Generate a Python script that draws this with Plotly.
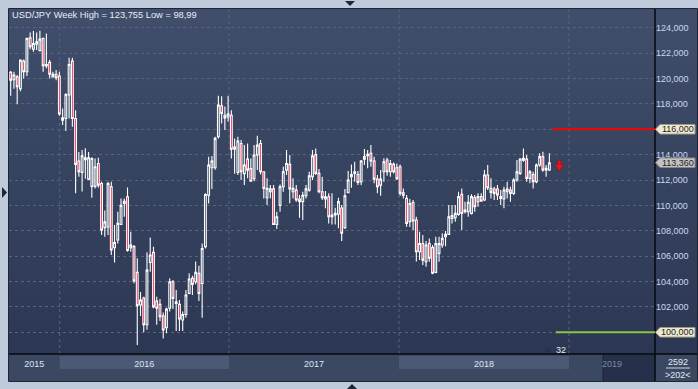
import plotly.graph_objects as go

# ---------------- data ----------------
opens = [120.48, 119.90, 120.13, 119.20, 121.37, 120.53, 123.20, 122.30, 122.70, 122.20,
         123.16, 120.99, 121.27, 120.13, 120.33, 120.20, 116.72, 116.85, 118.70, 121.37,
         116.85, 113.50, 112.60, 113.60, 112.07, 111.50, 111.50, 113.30, 111.73, 108.25,
         108.30, 111.47, 106.66, 107.27, 108.50, 110.15, 110.68, 106.66, 106.75, 104.72,
         102.15, 102.70, 100.60,
         105.50, 106.30, 102.46, 102.20, 101.30, 100.36, 101.90, 103.98, 102.28, 102.20,
         100.97, 101.40, 103.06, 104.25, 103.98, 104.64, 103.85, 106.75, 110.80, 112.97,
         112.97, 115.41, 117.85, 117.10, 116.97, 117.10, 114.43, 112.60, 114.88, 112.50,
         113.65, 112.90, 112.10, 113.97, 114.88, 112.65, 110.60, 111.08, 111.30, 108.50,
         110.00, 111.47,
         112.78, 113.23, 111.08, 111.20, 110.50, 110.30, 110.76, 111.20, 112.26, 114.00,
         112.52, 111.08, 110.50, 110.68, 109.10, 109.24, 109.30, 109.80, 108.24, 111.00,
         112.26, 112.52, 112.44, 111.86, 113.84, 113.92, 114.10, 113.50, 112.07, 111.60,
         112.65, 113.58, 112.65, 113.23, 112.97, 113.05, 111.00, 110.55, 108.72, 110.23,
         108.85, 106.35,
         107.00, 105.56, 107.00, 106.67, 104.72, 106.22, 106.88, 107.53, 107.72, 108.98,
         109.03, 109.29, 110.87, 109.50, 109.50, 109.37, 110.61, 110.29, 110.69, 110.42,
         112.39, 111.34, 111.29, 111.29, 110.69, 110.50, 111.08, 111.21, 110.95, 112.00,
         112.52, 113.57, 113.65, 112.13, 112.44, 111.87, 113.18, 113.84, 112.79, 112.79]
highs = [120.60, 120.53, 120.27, 121.50, 121.50, 123.20, 123.63, 123.74, 123.63, 123.755,
         123.20, 123.55, 121.45, 120.53, 120.67, 120.53, 117.64, 118.83, 121.63, 121.63,
         117.50, 114.20, 114.36, 114.50, 114.20, 113.80, 113.70, 113.75, 111.87, 109.60,
         111.87, 111.87, 108.45, 109.50, 110.55, 110.55, 111.42, 107.92, 106.88, 105.83,
         103.18, 102.81, 106.30,
         107.48, 106.75, 102.81, 102.62, 101.57, 101.94, 104.25, 104.12, 103.33, 102.54,
         101.63, 103.33, 104.65, 104.46, 105.57, 105.25, 107.00, 110.95, 113.84, 113.90,
         115.41, 118.64, 118.60, 117.80, 118.64, 117.50, 115.28, 115.41, 115.15, 114.75,
         114.88, 113.70, 114.75, 115.49, 115.15, 112.70, 112.13, 111.60, 111.60, 109.50,
         111.65, 113.05,
         114.36, 113.97, 112.13, 111.60, 110.82, 111.08, 111.60, 112.65, 114.36, 114.49,
         112.86, 112.26, 111.13, 110.95, 110.95, 109.82, 110.61, 110.03, 111.30, 112.71,
         113.23, 113.44, 112.71, 113.57, 114.44, 114.36, 114.75, 113.84, 112.39, 112.79,
         113.71, 113.76, 113.57, 113.39, 113.31, 113.23, 111.34, 110.82, 110.50, 110.42,
         109.10, 107.92,
         107.66, 107.19, 107.40, 106.88, 107.53, 107.53, 107.80, 107.98, 110.03, 110.03,
         110.03, 111.08, 111.34, 110.29, 110.82, 110.87, 110.82, 110.95, 110.95, 112.79,
         113.18, 112.13, 111.47, 111.60, 111.21, 111.47, 111.87, 111.47, 112.13, 113.57,
         113.71, 114.49, 113.97, 112.79, 112.65, 113.31, 114.10, 114.23, 113.18, 114.10]
lows = [118.64, 119.20, 117.98, 119.00, 120.00, 120.20, 122.30, 122.10, 122.24, 122.16,
        120.53, 120.80, 120.00, 120.10, 119.87, 117.07, 116.33, 115.86, 116.85, 116.20,
        110.95, 112.26, 111.10, 112.10, 112.00, 110.60, 111.34, 111.40, 107.66, 107.53,
        107.66, 106.10, 105.50, 107.00, 108.45, 109.10, 106.35, 106.35, 103.86, 98.99,
        101.28, 100.00, 100.20,
        104.78, 101.90, 100.60, 100.89, 99.52, 99.92, 101.63, 101.84, 100.10, 100.10,
        100.10, 101.15, 102.99, 102.94, 103.78, 102.47, 101.15, 106.60, 110.15, 111.30,
        112.80, 115.28, 116.46, 115.94, 116.60, 113.70, 112.50, 112.39, 112.00, 111.60,
        112.13, 111.87, 111.90, 112.79, 112.44, 110.55, 110.03, 110.55, 108.45, 108.14,
        109.50, 111.08,
        112.39, 110.16, 110.55, 110.29, 109.03, 108.85, 110.55, 111.08, 112.00, 112.39,
        110.95, 110.42, 109.77, 108.58, 108.50, 108.50, 108.19, 107.20, 108.14, 110.95,
        111.39, 111.87, 111.60, 111.60, 113.18, 112.92, 113.05, 111.74, 110.95, 110.77,
        111.87, 112.34, 112.26, 112.52, 112.00, 110.76, 110.55, 108.32, 108.30, 108.06,
        105.57, 105.70,
        105.30, 105.17, 105.56, 104.57, 104.65, 105.56, 106.67, 106.79, 107.66, 108.58,
        108.72, 109.19, 108.06, 109.37, 109.11, 109.29, 109.50, 109.90, 110.29, 110.34,
        111.21, 110.55, 110.42, 110.42, 110.03, 109.77, 110.55, 110.29, 110.82, 111.87,
        112.39, 113.44, 111.87, 111.74, 111.34, 111.74, 113.05, 112.65, 112.26, 112.71]
closes = [119.87, 120.27, 119.35, 121.45, 120.53, 123.16, 122.50, 122.76, 122.90, 123.10,
          121.00, 121.10, 120.33, 120.33, 120.06, 117.20, 116.90, 118.74, 121.10, 116.85,
          113.23, 112.65, 113.90, 113.76, 113.76, 113.70, 113.05, 111.60, 108.05, 108.70,
          111.73, 106.48, 107.08, 108.58, 110.00, 110.33, 106.45, 106.87, 104.05, 102.10,
          102.55, 100.60, 104.90,
          106.09, 102.00, 101.90, 101.23, 100.18, 101.83, 103.98, 102.67, 102.41, 101.05,
          101.40, 102.94, 104.20, 103.78, 104.72, 103.06, 106.60, 110.86, 113.18, 113.50,
          115.28, 117.90, 117.25, 116.90, 117.20, 114.43, 114.60, 115.07, 112.65, 113.18,
          112.78, 111.90, 113.97, 114.75, 112.65, 111.34, 111.34, 111.30, 108.50, 109.10,
          111.47, 112.65,
          113.30, 111.30, 111.34, 110.42, 110.30, 110.80, 111.30, 112.33, 113.90, 112.52,
          111.08, 110.60, 110.68, 109.10, 109.23, 109.37, 110.30, 107.80, 110.76, 112.00,
          112.44, 112.65, 111.80, 113.50, 113.65, 114.02, 113.50, 112.07, 111.47, 112.07,
          113.44, 112.65, 113.30, 112.65, 112.10, 110.95, 110.80, 108.58, 110.15, 108.77,
          106.35, 107.00,
          105.69, 106.88, 105.83, 104.65, 107.00, 107.00, 107.40, 107.72, 109.10, 109.20,
          109.37, 110.69, 109.37, 109.63, 110.24, 110.69, 109.90, 110.69, 110.34, 112.39,
          111.39, 111.03, 110.95, 110.82, 110.55, 111.21, 111.29, 110.95, 112.00, 112.65,
          113.65, 113.71, 112.13, 112.65, 111.87, 113.18, 113.84, 112.79, 112.92, 113.36]

year_labels = ["2015", "2016", "2017", "2018", "2019"]
y_ticks = [100, 102, 104, 106, 108, 110, 112, 114, 116, 118, 120, 122, 124]
title_text = "USD/JPY Week High = 123,755 Low = 98,99"
resistance_level = 116.0
support_level = 100.0
signal_price = 113.1
badge_text = "32"
footer_top = "2592"
footer_bottom = ">202<"

# ---------------- layout geometry (pixels) ----------------
W, H = 698, 389
PL, PR, PT, PB = 9, 655, 9, 354
X0PX, STEP = 10.7, 3.245
Y100PX, PXU = 332.3, 12.69
year_edges_px = [59.7, 229, 399, 569]
FONT = "Liberation Sans, Arial"


def px(x):
    return (x - PL) / (PR - PL)


def py(y):
    return (PB - y) / (PB - PT)


def xi(xpx):
    return (xpx - X0PX) / STEP


def yv(ypx):
    return 100 + (Y100PX - ypx) / PXU


n = len(opens)
xs = list(range(n))
x_lo, x_hi = xi(PL), xi(PR)
y_lo, y_hi = yv(PB), yv(PT)

edges = [x_lo] + [xi(p) for p in year_edges_px] + [x_hi]
label_pos = [(edges[i] + edges[i + 1]) / 2 for i in range(len(year_labels))]
ticktext = year_labels[:-1] + ["<span style='color:#7D8AA5'>%s</span>" % year_labels[-1]]


def fmt(v):
    return ("%.3f" % v).replace(".", ",")


tagged = [resistance_level, support_level]
y_ticktext = ["" if v in tagged else fmt(v) for v in y_ticks]

fig = go.Figure()
fig.add_trace(go.Candlestick(
    x=xs, open=opens, high=highs, low=lows, close=closes,
    increasing=dict(line=dict(color="#FFFFFF", width=1.1), fillcolor="rgba(0,0,0,0)"),
    decreasing=dict(line=dict(color="#FFFFFF", width=1.1), fillcolor="#F0002A"),
    whiskerwidth=0, hoverinfo="skip", showlegend=False,
))

shapes = []
# gradient background of chart panel
top_c, bot_c = (64, 78, 107), (44, 56, 83)
nb = 46
for k in range(nb):
    t = k / (nb - 1)
    c = tuple(int(round(top_c[j] + (bot_c[j] - top_c[j]) * t)) for j in range(3))
    y0 = PT + (PB - PT) * k / nb
    y1 = PT + (PB - PT) * (k + 1) / nb + 0.6
    shapes.append(dict(type="rect", xref="paper", yref="paper", layer="below",
                       x0=px(PL), x1=px(W), y0=py(y1), y1=py(y0),
                       fillcolor="rgb(%d,%d,%d)" % c, line=dict(width=0)))
# x-axis band
shapes.append(dict(type="rect", xref="paper", yref="paper", layer="below",
                   x0=px(PL), x1=px(W), y0=py(381), y1=py(PB),
                   fillcolor="#3B4862", line=dict(width=0)))
for a, b in [(year_edges_px[0], year_edges_px[1]), (year_edges_px[2], year_edges_px[3])]:
    shapes.append(dict(type="rect", xref="paper", yref="paper", layer="below",
                       x0=px(a), x1=px(b), y0=py(369), y1=py(356),
                       fillcolor="#4B5975", line=dict(width=0)))
shapes.append(dict(type="rect", xref="paper", yref="paper", layer="below",
                   x0=px(603), x1=px(PR), y0=py(381), y1=py(355),
                   fillcolor="#27304A", line=dict(width=0)))
shapes.append(dict(type="line", xref="paper", yref="paper", layer="below",
                   x0=px(603), x1=px(603), y0=py(381), y1=py(355),
                   line=dict(color="#1A2033", width=1)))
# vertical year gridlines
for e in edges[1:-1]:
    shapes.append(dict(type="line", xref="x", yref="paper", layer="below",
                       x0=e, x1=e, y0=0, y1=1,
                       line=dict(color="#56647F", width=1, dash="3px,3px")))
# separators
shapes.append(dict(type="line", xref="paper", yref="paper",
                   x0=px(PL), x1=px(W), y0=py(PB), y1=py(PB),
                   line=dict(color="#05080E", width=1.5)))
shapes.append(dict(type="line", xref="paper", yref="paper",
                   x0=px(PR), x1=px(PR), y0=py(381), y1=py(PT),
                   line=dict(color="#05080E", width=1.5)))
# panel border
shapes.append(dict(type="rect", xref="paper", yref="paper",
                   x0=px(8.5), x1=px(697.5), y0=py(381.5), y1=py(8.5),
                   line=dict(color="#1C2436", width=1)))
# level lines
shapes.append(dict(type="line", xref="x", yref="y", x0=n, x1=x_hi,
                   y0=resistance_level, y1=resistance_level,
                   line=dict(color="#FF0000", width=2)))
shapes.append(dict(type="line", xref="x", yref="y", x0=n + 1, x1=x_hi,
                   y0=support_level, y1=support_level,
                   line=dict(color="#8CC63F", width=2)))


def tag(level, fill, border):
    hh = 4.8 / PXU
    xt, xl, xr = px(655.5), px(660), px(695)
    path = "M%f,%f L%f,%f L%f,%f L%f,%f L%f,%f Z" % (
        xt, level, xl, level + hh, xr, level + hh, xr, level - hh, xl, level - hh)
    return dict(type="path", xref="paper", yref="y", path=path,
                fillcolor=fill, line=dict(color=border, width=1))


shapes.append(tag(resistance_level, "#EEEAD2", "#9B9985"))
shapes.append(tag(closes[-1], "#C3C3C3", "#858585"))
shapes.append(tag(support_level, "#EEEAD2", "#9B9985"))

# red down arrow (signal marker), drawn around (index n+2, signal_price)
ax0 = n + 2.1
sx, sy = 1.0 / STEP, 1.0 / PXU      # one pixel in data units
arrow_pts = [(-1.3, 5.5), (1.3, 5.5), (1.3, 1.0), (4.5, 2.2), (0, -5.0),
             (-4.5, 2.2), (-1.3, 1.0)]
arrow_path = "M" + " L".join("%f,%f" % (ax0 + a * sx, signal_price + b * sy)
                             for a, b in arrow_pts) + " Z"
shapes.append(dict(type="path", xref="x", yref="y", path=arrow_path,
                   fillcolor="#F21414", line=dict(color="#C00000", width=0.5)))


def tri(points, color):
    p = "M" + " L".join("%f,%f" % (px(a), py(b)) for a, b in points) + " Z"
    return dict(type="path", xref="paper", yref="paper", path=p,
                fillcolor=color, line=dict(width=0))


shapes.append(tri([(345, 1), (355, 1), (350, 6)], "#1E2638"))
shapes.append(tri([(347, 389), (357, 389), (352, 384)], "#1E2638"))
shapes.append(tri([(2, 187), (2, 198), (7, 192.5)], "#1E2638"))
shapes.append(tri([(544, 352), (552, 352), (548, 347)], "#27314A"))
shapes.append(dict(type="line", xref="paper", yref="paper",
                   x0=px(666), x1=px(690), y0=py(368), y1=py(368),
                   line=dict(color="#C9D6EA", width=1)))

annotations = [
    dict(text=title_text, xref="paper", yref="paper", x=px(10), y=py(15),
         xanchor="left", yanchor="middle", showarrow=False,
         font=dict(size=9.3, color="#E6EDF7", family=FONT)),
    dict(text=badge_text, xref="paper", yref="paper", x=px(561), y=py(349.5),
         xanchor="center", yanchor="middle", showarrow=False,
         font=dict(size=9, color="#E3EAF5", family=FONT)),
    dict(text=footer_top, xref="paper", yref="paper", x=px(677.5), y=py(362),
         xanchor="center", yanchor="middle", showarrow=False,
         font=dict(size=9, color="#E3EAF5", family=FONT)),
    dict(text=footer_bottom, xref="paper", yref="paper", x=px(677.5), y=py(374.5),
         xanchor="center", yanchor="middle", showarrow=False,
         font=dict(size=9, color="#E3EAF5", family=FONT)),
]
for lvl in [resistance_level, closes[-1], support_level]:
    annotations.append(dict(text=fmt(lvl), xref="paper", yref="y",
                            x=px(677.5), y=lvl, xanchor="center", yanchor="middle",
                            showarrow=False,
                            font=dict(size=9, color="#1E1E1E", family=FONT)))

fig.update_layout(
    width=W, height=H,
    margin=dict(l=PL, r=W - PR, t=PT, b=H - PB, pad=0, autoexpand=False),
    paper_bgcolor="#BFCADA", plot_bgcolor="rgba(0,0,0,0)",
    boxgap=0.22,
    shapes=shapes, annotations=annotations,
    showlegend=False,
    font=dict(family=FONT, size=9),
    xaxis=dict(range=[x_lo, x_hi], showgrid=False, zeroline=False, showline=False,
               tickvals=label_pos, ticktext=ticktext, ticks="",
               tickfont=dict(size=9, color="#DDE5F1"), ticklabelstandoff=3,
               rangeslider=dict(visible=False), fixedrange=True),
    yaxis=dict(range=[y_lo, y_hi], side="right", tickvals=y_ticks,
               ticktext=y_ticktext, ticks="",
               showgrid=True, gridcolor="#56647F", gridwidth=1, griddash="3px,3px",
               zeroline=False, showline=False,
               tickfont=dict(size=9, color="#CAD8EE"), fixedrange=True),
)

fig.write_html("out.html", config={"displayModeBar": False},
               post_script="document.body.style.margin='0px';document.body.style.overflow='hidden';")
